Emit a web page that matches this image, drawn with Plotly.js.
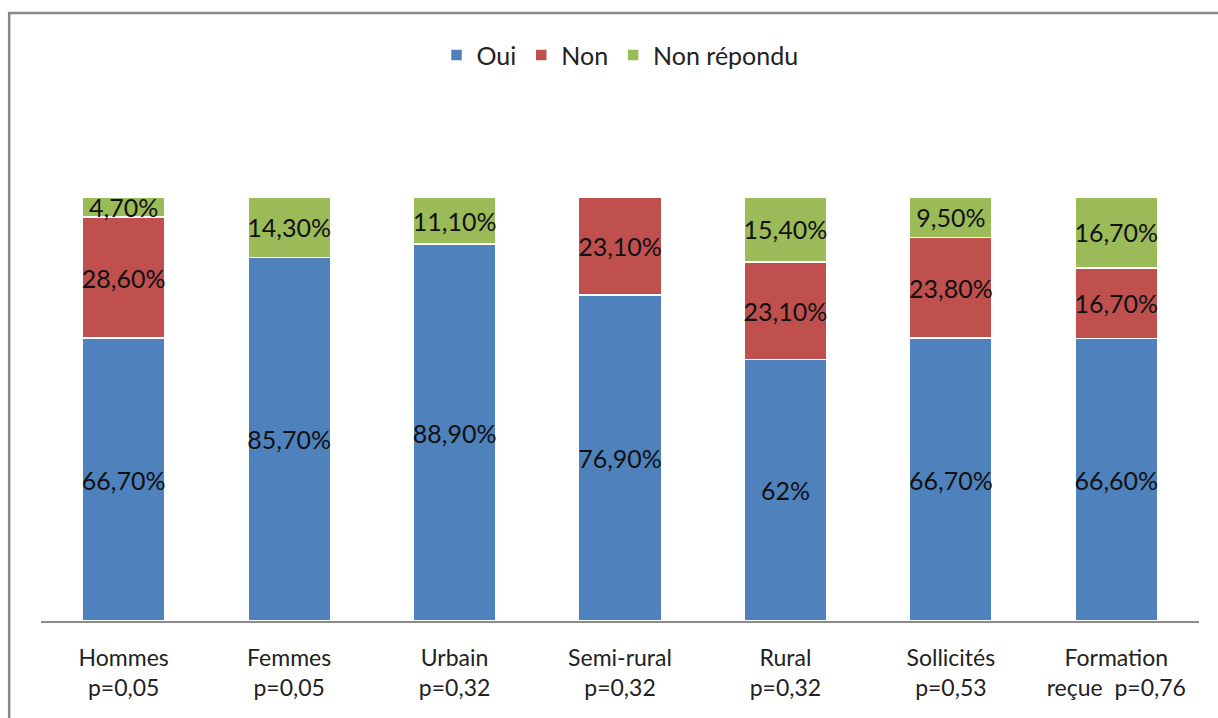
<!DOCTYPE html>
<html>
<head>
<meta charset="utf-8">
<script src="https://cdn.plot.ly/plotly-3.0.1.min.js"></script>
<style>html,body{margin:0;padding:0;background:#fff;}#chart{width:1218px;height:718px;}</style>
</head>
<body>
<div id="chart"></div>
<script>
const categories = ["Hommes<br>p=0,05", "Femmes<br>p=0,05", "Urbain<br>p=0,32", "Semi-rural<br>p=0,32", "Rural<br>p=0,32", "Sollicités<br>p=0,53", "Formation<br>reçue  p=0,76"];
const oui = [66.7, 85.7, 88.9, 76.9, 62, 66.7, 66.6];
const non = [28.6, null, null, 23.1, 23.1, 23.8, 16.7];
const nonRepondu = [4.7, 14.3, 11.1, null, 15.4, 9.5, 16.7];
const ouiLabels = ["66,70%", "85,70%", "88,90%", "76,90%", "62%", "66,70%", "66,60%"];
const nonLabels = ["28,60%", "", "", "23,10%", "23,10%", "23,80%", "16,70%"];
const nrLabels = ["4,70%", "14,30%", "11,10%", "", "15,40%", "9,50%", "16,70%"];

const FONT = "Lato, 'Open Sans', sans-serif";
function mk(name, y, text, color) {
  return {
    type: "bar", name: name, x: categories, y: y, text: text,
    textposition: "inside", insidetextanchor: "middle", constraintext: "none", textangle: 0,
    textfont: {family: FONT, size: 25, color: "#111"},
    marker: {color: color, line: {color: "#fff", width: 1.5}},
    hoverinfo: "none"
  };
}
const data = [
  mk("Oui", oui, ouiLabels, "#4F81BD"),
  mk("Non", non, nonLabels, "#C0504D"),
  mk("Non répondu", nonRepondu, nrLabels, "#9BBB59")
];
const layout = {
  width: 1218, height: 718,
  margin: {l: 41, r: 19, t: 197, b: 97},
  barmode: "stack", barnorm: "percent", bargap: 0.5,
  paper_bgcolor: "#fff", plot_bgcolor: "#fff",
  font: {family: FONT, size: 23, color: "#222"},
  showlegend: true,
  legend: {orientation: "h", x: 0.5, xanchor: "center", y: 0.923, yref: "container", yanchor: "middle",
           font: {family: FONT, size: 25, color: "#222"}, itemwidth: 30, traceorder: "normal"},
  xaxis: {showline: true, linecolor: "#8c8c8c", linewidth: 1.5, ticks: "", showgrid: false,
          ticklabelstandoff: 16,
          tickfont: {family: FONT, size: 23, color: "#222"}, fixedrange: true},
  yaxis: {range: [0, 100], visible: false, showgrid: false, zeroline: false, fixedrange: true},
  shapes: [
    {type: "rect", xref: "paper", yref: "paper", x0: -0.0275, x1: 1.2, y0: -0.5, y1: 1.434,
     line: {color: "#888", width: 2.5}, fillcolor: "rgba(0,0,0,0)", layer: "below"}
  ]
};
Plotly.newPlot("chart", data, layout, {displayModeBar: false, staticPlot: true});
</script>
</body>
</html>
